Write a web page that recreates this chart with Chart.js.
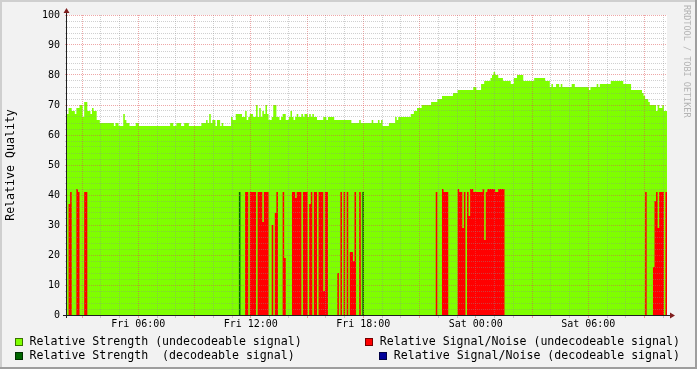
<!DOCTYPE html>
<html>
<head>
<meta charset="utf-8">
<script src="https://cdn.jsdelivr.net/npm/chart.js@4"></script>
<style>
  body { margin: 0; background: #f2f2f2; }
  #wrap { position: relative; width: 697px; height: 369px; }
  #c { display: block; position: absolute; left: 0; top: 0; }
  .lg { position: absolute; font: 11.6px 'DejaVu Sans Mono', monospace; line-height: 14px; white-space: pre; color: #000; }
  .lg i { display: inline-block; width: 8px; height: 8px; box-sizing: border-box; border: 1px solid rgba(0,0,0,0.55); margin-right: 6.5px; vertical-align: -1px; }
  #wm { position: absolute; left: 682px; top: 5px; writing-mode: vertical-rl; font: 8.5px 'DejaVu Sans Mono', monospace; line-height: 10px; color: #b4b4b4; white-space: pre; }
</style>
</head>
<body>
<div id="wrap">
  <canvas id="c" width="697" height="369"></canvas>
  <div class="lg" style="left:15px;top:334px"><i style="background:#7fff00"></i>Relative Strength (undecodeable signal)</div>
  <div class="lg" style="right:17px;top:334px"><i style="background:#ff0000"></i>Relative Signal/Noise (undecodeable signal)</div>
  <div class="lg" style="left:15px;top:348px"><i style="background:#006600"></i>Relative Strength  (decodeable signal)</div>
  <div class="lg" style="right:17px;top:348px"><i style="background:#000099"></i>Relative Signal/Noise (decodeable signal)</div>
  <div id="wm">RRDTOOL / TOBI OETIKER</div>
</div>
<script>
// 5 minute samples, minutes since Fri 00:00, first sample at Fri 02:12
var startMinute = 132;
var stepMinutes = 5;

// Relative Strength (undecodeable signal)
var strengthUndec = [
  67,69,69,68,68,67,69,69,70,70,66,71,71,68,68,67,
  69,68,68,65,65,64,64,64,64,64,64,64,64,64,63,64,
  64,63,63,63,67,65,64,64,63,63,63,63,64,64,63,63,
  63,63,63,63,63,63,63,63,63,63,63,63,63,63,63,63,
  63,63,64,64,63,63,64,64,64,63,63,64,64,64,63,63,
  63,63,63,63,63,63,64,64,64,65,64,67,64,65,65,63,
  65,65,63,64,63,63,63,63,63,66,65,65,67,67,67,67,
  66,66,68,65,66,67,67,66,66,70,66,69,66,68,67,70,
  67,65,65,66,70,70,66,66,65,66,67,67,65,65,66,68,
  66,65,66,67,66,66,67,66,67,67,66,67,66,67,66,66,
  65,65,65,65,66,66,65,66,66,66,66,65,65,65,65,65,
  65,65,65,65,65,65,64,64,64,64,64,65,64,64,64,64,
  64,64,64,65,64,64,64,65,64,65,63,63,63,63,64,64,
  64,64,66,65,66,66,66,66,66,66,66,66,67,67,68,68,
  69,69,69,70,70,70,70,70,70,71,71,71,71,72,72,72,
  73,73,73,73,73,73,73,74,74,74,75,75,75,75,75,75,
  75,75,75,75,76,76,75,75,75,77,77,78,78,78,78,79,
  80,81,80,80,79,79,79,78,78,78,78,78,77,77,79,79,
  80,80,80,80,78,78,78,78,78,78,78,79,79,79,79,79,
  79,79,78,78,78,76,77,76,76,77,77,76,77,76,76,76,
  76,76,76,77,77,76,76,76,76,76,76,76,76,76,75,76,
  76,76,76,77,76,77,77,77,77,77,77,77,78,78,78,78,
  78,78,78,78,77,77,77,77,77,75,75,75,75,75,75,75,
  74,73,72,72,71,70,70,70,70,68,70,69,69,70,68,68
];

// Relative Strength (decodeable signal)
var strengthDec = [
  0,0,0,0,0,0,0,0,0,0,0,0,0,0,0,0, 0,0,0,0,0,0,0,0,0,0,0,0,0,0,0,0,
  0,0,0,0,0,0,0,0,0,0,0,0,0,0,0,0, 0,0,0,0,0,0,0,0,0,0,0,0,0,0,0,0,
  0,0,0,0,0,0,0,0,0,0,0,0,0,0,0,0, 0,0,0,0,0,0,0,0,0,0,0,0,0,0,0,0,
  0,0,0,0,0,0,0,0,0,0,0,0,0,0,41,0, 0,0,0,0,0,0,0,0,0,0,0,0,0,0,0,0,
  0,0,0,0,0,0,0,0,0,0,0,0,0,0,0,0, 0,0,0,0,0,0,0,0,0,0,0,0,0,0,0,0,
  0,0,0,0,0,0,0,0,0,0,0,0,0,0,0,0, 0,0,0,0,0,0,0,0,0,0,0,0,0,41,0,0,
  0,0,0,0,0,0,0,0,0,0,0,0,0,0,0,0, 0,0,0,0,0,0,0,0,0,0,0,0,0,0,0,0,
  0,0,0,0,0,0,0,0,0,0,0,0,0,0,0,0, 0,0,0,0,0,0,0,0,0,0,0,0,0,0,0,0,
  0,0,0,0,0,0,0,0,0,0,0,0,0,0,0,0, 0,0,0,0,0,0,0,0,0,0,0,0,0,0,0,0,
  0,0,0,0,0,0,0,0,0,0,0,0,0,0,0,0, 0,0,0,0,0,0,0,0,0,0,0,0,0,0,0,0,
  0,0,0,0,0,0,0,0,0,0,0,0,0,0,0,0, 0,0,0,0,0,0,0,0,0,0,0,0,0,0,0,0,
  0,0,0,0,0,0,0,0,0,0,0,0,0,0,0,0, 0,0,0,0,0,0,0,0,0,0,0,0,0,0,0,0
];

// Relative Signal/Noise (undecodeable signal)
var snrUndec = [
  0,37,41,0,0,0,42,41,0,0,0,41,41,0,0,0,
  0,0,0,0,0,0,0,0,0,0,0,0,0,0,0,0,
  0,0,0,0,0,0,0,0,0,0,0,0,0,0,0,0,
  0,0,0,0,0,0,0,0,0,0,0,0,0,0,0,0,
  0,0,0,0,0,0,0,0,0,0,0,0,0,0,0,0,
  0,0,0,0,0,0,0,0,0,0,0,0,0,0,0,0,
  0,0,0,0,0,0,0,0,0,0,0,0,0,0,0,0,
  0,0,41,41,0,41,41,41,41,0,41,41,41,31,41,41,
  41,0,0,30,0,34,41,0,0,0,41,19,0,0,0,0,
  41,41,39,41,41,41,0,41,41,41,0,37,41,0,41,41,
  0,41,41,41,8,41,41,0,0,0,0,0,0,14,0,41,
  0,41,0,41,0,21,21,18,41,0,0,41,0,0,0,0,
  0,0,0,0,0,0,0,0,0,0,0,0,0,0,0,0,
  0,0,0,0,0,0,0,0,0,0,0,0,0,0,0,0,
  0,0,0,0,0,0,0,0,0,0,0,0,41,0,0,0,
  42,41,41,41,0,0,0,0,0,0,42,41,41,29,41,0,
  41,33,42,42,41,41,41,41,41,41,42,25,41,42,42,42,
  42,42,41,41,42,42,42,42,0,0,0,0,0,0,0,0,
  0,0,0,0,0,0,0,0,0,0,0,0,0,0,0,0,
  0,0,0,0,0,0,0,0,0,0,0,0,0,0,0,0,
  0,0,0,0,0,0,0,0,0,0,0,0,0,0,0,0,
  0,0,0,0,0,0,0,0,0,0,0,0,0,0,0,0,
  0,0,0,0,0,0,0,0,0,0,0,0,0,0,0,0,
  0,0,41,0,0,0,0,16,38,41,29,41,41,41,0,41
];

// Relative Signal/Noise (decodeable signal)
var snrDec = [
  0,0,0,0,0,0,0,0,0,0,0,0,0,0,0,0, 0,0,0,0,0,0,0,0,0,0,0,0,0,0,0,0,
  0,0,0,0,0,0,0,0,0,0,0,0,0,0,0,0, 0,0,0,0,0,0,0,0,0,0,0,0,0,0,0,0,
  0,0,0,0,0,0,0,0,0,0,0,0,0,0,0,0, 0,0,0,0,0,0,0,0,0,0,0,0,0,0,0,0,
  0,0,0,0,0,0,0,0,0,0,0,0,0,0,0,0, 0,0,0,0,0,0,0,0,0,0,0,0,0,0,0,0,
  0,0,0,0,0,0,0,0,0,0,0,0,0,0,0,0, 0,0,0,0,0,0,0,0,0,0,0,0,0,0,0,0,
  0,0,0,0,0,0,0,0,0,0,0,0,0,0,0,0, 0,0,0,0,0,0,0,0,0,0,0,0,0,0,0,0,
  0,0,0,0,0,0,0,0,0,0,0,0,0,0,0,0, 0,0,0,0,0,0,0,0,0,0,0,0,0,0,0,0,
  0,0,0,0,0,0,0,0,0,0,0,0,0,0,0,0, 0,0,0,0,0,0,0,0,0,0,0,0,0,0,0,0,
  0,0,0,0,0,0,0,0,0,0,0,0,0,0,0,0, 0,0,0,0,0,0,0,0,0,0,0,0,0,0,0,0,
  0,0,0,0,0,0,0,0,0,0,0,0,0,0,0,0, 0,0,0,0,0,0,0,0,0,0,0,0,0,0,0,0,
  0,0,0,0,0,0,0,0,0,0,0,0,0,0,0,0, 0,0,0,0,0,0,0,0,0,0,0,0,0,0,0,0,
  0,0,0,0,0,0,0,0,0,0,0,0,0,0,0,0, 0,0,0,0,0,0,0,0,0,0,0,0,0,0,0,0
];

var tickTimes = [360, 720, 1080, 1440, 1800];
var tickLabels = ['Fri 06:00', 'Fri 12:00', 'Fri 18:00', 'Sat 00:00', 'Sat 06:00'];

var GRID = 'rgba(143,143,143,0.42)';
var MGRID = 'rgba(222,79,79,0.5)';

// each value covers one step, so add a closing point at the end
function toPoints(arr) {
  var pts = arr.map(function (v, i) { return { x: startMinute + i * stepMinutes, y: v }; });
  pts.push({ x: startMinute + arr.length * stepMinutes, y: arr[arr.length - 1] });
  return pts;
}

function area(label, arr, color, order) {
  return {
    label: label,
    data: toPoints(arr),
    stepped: true,
    fill: 'origin',
    backgroundColor: color,
    borderColor: 'rgba(0,0,0,0)',
    borderWidth: 0,
    pointRadius: 0,
    order: order
  };
}

var endMinute = startMinute + strengthUndec.length * stepMinutes;
var hourTicks = [];
for (var m = Math.ceil(startMinute / 60) * 60; m < endMinute; m += 60) hourTicks.push(m);

var frame = {
  id: 'frame',
  beforeDraw: function (chart) {
    var c = chart.ctx, a = chart.chartArea, W = chart.width, H = chart.height;
    c.save();
    c.fillStyle = '#f2f2f2'; c.fillRect(0, 0, W, H);
    c.fillStyle = '#cfcfcf'; c.fillRect(0, 0, W, 2); c.fillRect(0, 0, 2, H);
    c.fillStyle = '#9e9e9e'; c.fillRect(0, H - 2, W, 2); c.fillRect(W - 2, 0, 2, H);
    c.fillStyle = '#ffffff'; c.fillRect(a.left, a.top, a.right - a.left, a.bottom - a.top);
    c.restore();
  },
  afterDraw: function (chart) {
    var c = chart.ctx, a = chart.chartArea;
    c.save();
    c.strokeStyle = '#1f1f1f'; c.lineWidth = 1;
    c.beginPath();
    c.moveTo(a.left - 4, a.bottom + 0.5); c.lineTo(a.right + 4, a.bottom + 0.5);
    c.moveTo(a.left - 0.5, a.bottom + 3); c.lineTo(a.left - 0.5, a.top - 3);
    c.stroke();
    c.fillStyle = '#801f1f';
    c.beginPath();
    c.moveTo(a.left - 0.5, a.top - 7); c.lineTo(a.left - 3.5, a.top - 2); c.lineTo(a.left + 2.5, a.top - 2); c.closePath();
    c.moveTo(a.right + 8, a.bottom + 0.5); c.lineTo(a.right + 3, a.bottom - 2.5); c.lineTo(a.right + 3, a.bottom + 3.5); c.closePath();
    c.fill();
    c.restore();
  }
};

new Chart(document.getElementById('c'), {
  type: 'line',
  data: {
    datasets: [
      area('Relative Signal/Noise (decodeable signal)', snrDec, '#000099', 1),
      area('Relative Signal/Noise (undecodeable signal)', snrUndec, '#ff0000', 2),
      area('Relative Strength  (decodeable signal)', strengthDec, '#006600', 3),
      area('Relative Strength (undecodeable signal)', strengthUndec, '#7fff00', 4)
    ]
  },
  options: {
    responsive: false,
    animation: false,
    devicePixelRatio: 1,
    events: [],
    layout: { padding: { left: 0, top: 15, right: 30, bottom: 32 } },
    plugins: { legend: { display: false }, tooltip: { enabled: false } },
    scales: {
      x: {
        type: 'linear',
        min: startMinute,
        max: endMinute,
        afterBuildTicks: function (axis) { axis.ticks = hourTicks.map(function (v) { return { value: v }; }); },
        afterFit: function (axis) { axis.height = 22; },
        ticks: {
          autoSkip: false, maxRotation: 0, padding: 0, color: '#000',
          font: { family: 'DejaVu Sans Mono', size: 10 },
          callback: function (v) { var k = tickTimes.indexOf(v); return k < 0 ? '' : tickLabels[k]; }
        },
        grid: {
          z: 1, lineWidth: 1, tickLength: 3,
          color: function (ctx) { return ctx.tick && ctx.tick.value % 180 === 0 ? MGRID : GRID; },
          tickColor: function (ctx) { return ctx.tick && ctx.tick.value % 180 === 0 ? MGRID : GRID; }
        },
        border: { display: false, dash: [1, 1] }
      },
      y: {
        min: 0,
        max: 100,
        afterFit: function (axis) { axis.width = 67; },
        ticks: {
          stepSize: 2, autoSkip: false, padding: 5, color: '#000',
          font: { family: 'DejaVu Sans Mono', size: 10 },
          callback: function (v) { return v % 10 === 0 ? String(v) : ''; }
        },
        grid: {
          z: 1, lineWidth: 1, tickLength: 2,
          color: function (ctx) { return ctx.tick && ctx.tick.value % 10 === 0 ? MGRID : GRID; },
          tickColor: function (ctx) { return ctx.tick && ctx.tick.value % 10 === 0 ? MGRID : GRID; }
        },
        border: { display: false, dash: [1, 1] },
        title: {
          display: true, text: 'Relative Quality', color: '#000',
          font: { family: 'DejaVu Sans Mono', size: 11.6 },
          padding: { top: 4, bottom: 0 }
        }
      }
    }
  },
  plugins: [frame]
});
</script>
</body>
</html>
